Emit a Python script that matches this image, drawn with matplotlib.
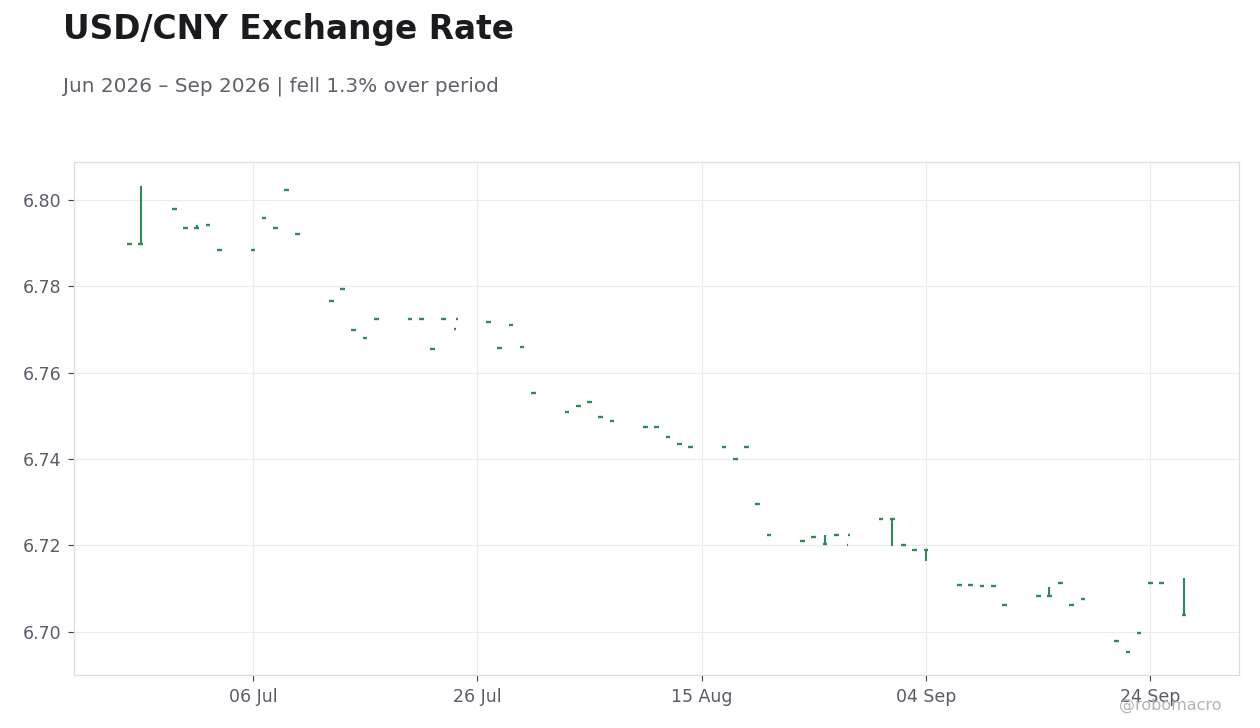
import numpy as np
import pandas as pd
import matplotlib
matplotlib.use("Agg")
import matplotlib.pyplot as plt
import matplotlib.dates as mdates

# Daily USD/CNY candles (open == close, all up days)
dates = [
    "2026-06-25", "2026-06-26", "2026-06-29", "2026-06-30", "2026-07-01", "2026-07-02", "2026-07-03",
    "2026-07-06", "2026-07-07", "2026-07-08", "2026-07-09", "2026-07-10",
    "2026-07-13", "2026-07-14", "2026-07-15", "2026-07-16", "2026-07-17",
    "2026-07-20", "2026-07-21", "2026-07-22", "2026-07-23", "2026-07-24 00:00", "2026-07-24 04:00",
    "2026-07-27", "2026-07-28", "2026-07-29", "2026-07-30", "2026-07-31",
    "2026-08-03", "2026-08-04", "2026-08-05", "2026-08-06", "2026-08-07",
    "2026-08-10", "2026-08-11", "2026-08-12", "2026-08-13", "2026-08-14",
    "2026-08-17", "2026-08-18", "2026-08-19", "2026-08-20", "2026-08-21",
    "2026-08-24", "2026-08-25", "2026-08-26", "2026-08-27", "2026-08-28 00:00", "2026-08-28 04:00",
    "2026-08-31", "2026-09-01", "2026-09-02", "2026-09-03", "2026-09-04",
    "2026-09-07", "2026-09-08", "2026-09-09", "2026-09-10", "2026-09-11",
    "2026-09-14", "2026-09-15", "2026-09-16", "2026-09-17", "2026-09-18",
    "2026-09-21", "2026-09-22", "2026-09-23", "2026-09-24", "2026-09-25", "2026-09-27",
]
closes = [
    6.7899, 6.7899, 6.7980, 6.7936, 6.7936, 6.7943, 6.7885,
    6.7885, 6.7959, 6.7934, 6.8024, 6.7922,
    6.7767, 6.7795, 6.7700, 6.7681, 6.7725,
    6.7725, 6.7725, 6.7656, 6.7725, 6.7702, 6.7725,
    6.7718, 6.7658, 6.7711, 6.7660, 6.7552,
    6.7510, 6.7524, 6.7533, 6.7498, 6.7489,
    6.7475, 6.7475, 6.7450, 6.7434, 6.7429,
    6.7429, 6.7400, 6.7427, 6.7297, 6.7225,
    6.7211, 6.7220, 6.7204, 6.7225, 6.7200, 6.7225,
    6.7262, 6.7262, 6.7202, 6.7190, 6.7190,
    6.7109, 6.7109, 6.7107, 6.7107, 6.7063,
    6.7082, 6.7084, 6.7114, 6.7061, 6.7075,
    6.6978, 6.6954, 6.6998, 6.7112, 6.7112, 6.7038,
]
opens = list(closes)
# days whose wick reaches beyond the body
wick_high = {"2026-06-26": 6.8032, "2026-07-01": 6.7942, "2026-08-26": 6.7225,
             "2026-09-15": 6.7104, "2026-09-27": 6.7124}
wick_low = {"2026-09-01": 6.7198, "2026-09-04": 6.7165}

title = "USD/CNY Exchange Rate"
subtitle = "Jun 2026 \u2013 Sep 2026 | fell 1.3% over period"
y_ticks = [6.70, 6.72, 6.74, 6.76, 6.78, 6.80]
x_ticks = ["2026-07-06", "2026-07-26", "2026-08-15", "2026-09-04", "2026-09-24"]

df = pd.DataFrame({"date": pd.to_datetime(dates, format="mixed"), "open": opens, "close": closes})
df["high"] = [wick_high.get(d, max(o, c)) for d, o, c in zip(dates, opens, closes)]
df["low"] = [wick_low.get(d, min(o, c)) for d, o, c in zip(dates, opens, closes)]

GREEN = "#2e8b57"
TICK_COLOR = "#585c68"
GRID = "#ececec"

fig = plt.figure(figsize=(12.6, 7.28), dpi=100)
ax = fig.add_axes([0.0587, 0.0728, 0.9246, 0.7047])

x = mdates.date2num(df["date"])
gaps = np.diff(x)
near = np.minimum(np.r_[gaps, np.inf], np.r_[np.inf, gaps])
widths = np.minimum(0.42, 0.9 * near)

ax.vlines(x, df["low"], df["high"], color=GREEN, linewidth=1.5, zorder=3)
ax.hlines(df["close"], x - widths / 2, x + widths / 2, color=GREEN, linewidth=1.7, zorder=4)

ax.set_xlim(x.min() - 4.95, x.max() + 4.9)
ax.set_ylim(6.6900, 6.8088)

ax.set_yticks(y_ticks)
ax.yaxis.set_major_formatter(matplotlib.ticker.FormatStrFormatter("%.2f"))
ax.set_xticks(mdates.date2num(pd.to_datetime(x_ticks)))
ax.xaxis.set_major_formatter(mdates.DateFormatter("%d %b"))

ax.grid(True, color=GRID, linewidth=0.8, zorder=0)
ax.set_axisbelow(True)
for sp in ax.spines.values():
    sp.set_color("#dedede")
    sp.set_linewidth(0.9)
ax.tick_params(axis="both", colors="#444444", labelcolor=TICK_COLOR, labelsize=12.5,
               length=4, width=0.8, direction="out", pad=5)

fig.text(63 / 1260, 1 - 30 / 728, title, fontsize=23.7, fontweight="bold",
         color="#1b1b1f", ha="left", va="center")
fig.text(63 / 1260, 1 - 86 / 728, subtitle, fontsize=14.4, color="#5f6068",
         ha="left", va="center")
fig.text(1222 / 1260, 1 - 705 / 728, "@robomacro", fontsize=11.5, color="#b4b4b4",
         ha="right", va="center")

fig.savefig("out.png", dpi=100)
